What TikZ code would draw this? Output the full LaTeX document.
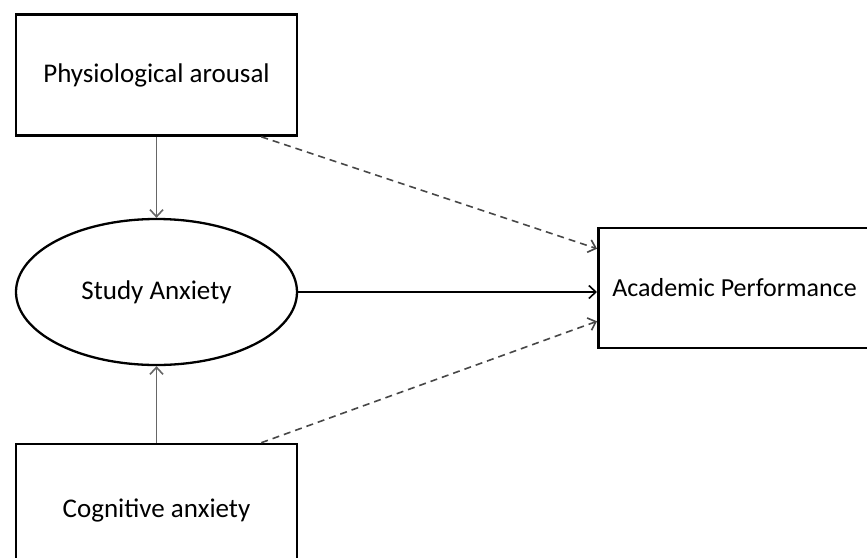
\documentclass[tikz,border=0pt]{standalone}
\usepackage{fontspec}
\setmainfont{Carlito}
\usetikzlibrary{arrows.meta,shapes.geometric}
\begin{document}
\begin{tikzpicture}[x=1pt,y=-1pt,
  boxnode/.style={draw=black,line width=2.6pt,rectangle,minimum width=281pt,inner sep=0pt,font=\fontsize{27}{32}\selectfont},
  ellnode/.style={draw=black,line width=2.3pt,ellipse,minimum width=281pt,minimum height=146pt,inner sep=0pt,font=\fontsize{27}{32}\selectfont},
  tip/.style={-{Straight Barb[length=7pt,width=13pt,line width=1.6pt]}},
  grayarrow/.style={tip,draw=black!60,line width=1.6pt},
  dasharrow/.style={tip,draw=black!72,line width=1.6pt,dash pattern=on 7pt off 5pt},
  mainarrow/.style={tip,draw=black,line width=2.8pt}]
\useasboundingbox (0,0) rectangle (867,557);
\clip (0,0) rectangle (867,557);
\fill[white] (0,0) rectangle (867,557);
\node[boxnode,minimum height=121pt] (phys) at (156.5,75) {Physiological arousal};
\node[ellnode] (study) at (156.5,292) {Study Anxiety};
\node[boxnode,minimum height=132pt] (cog) at (156.5,510) {Cognitive anxiety};
\node[boxnode,minimum height=120pt,anchor=west,text width=290pt,align=flush left,inner xsep=14pt,font=\fontsize{26}{31}\selectfont] (perf) at (597,288) {Academic Performance};
\coordinate (physout) at ([xshift=-37pt]phys.south east);
\coordinate (cogout) at ([xshift=-37pt]cog.north east);
\coordinate (perfin1) at ([yshift=-22pt]perf.north west);
\coordinate (perfin3) at ([yshift=28pt]perf.south west);
\draw[grayarrow] (phys.south) -- (study.north);
\draw[grayarrow] (cog.north) -- (study.south);
\draw[mainarrow] (study.east) -- (perf.west |- study.east);
\draw[dasharrow] (physout) -- (perfin1);
\draw[dasharrow] (cogout) -- (perfin3);
\end{tikzpicture}
\end{document}
